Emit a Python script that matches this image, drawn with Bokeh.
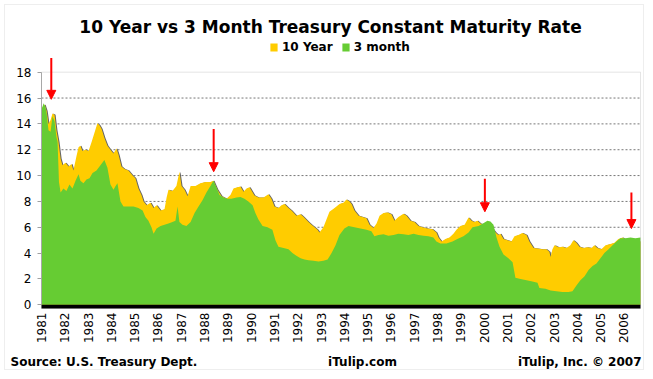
from bokeh.plotting import figure
from bokeh.models import (Range1d, FixedTicker, Label, BoxAnnotation, Arrow, NormalHead,
                          Legend, LegendItem)
from bokeh.embed import file_html
from bokeh.resources import INLINE
import math

# ---------------- data ----------------
ten_year_t = [1981.00, 1981.13, 1981.22, 1981.30, 1981.39, 1981.47, 1981.56, 1981.64, 1981.73, 1981.82,
              1981.90, 1982.03, 1982.16, 1982.29, 1982.37, 1982.50, 1982.59, 1982.67, 1982.76, 1982.89,
              1983.02, 1983.15, 1983.27, 1983.40, 1983.49, 1983.58, 1983.70, 1983.83, 1983.96, 1984.09,
              1984.22, 1984.31, 1984.43, 1984.56, 1984.73, 1984.91, 1985.03, 1985.16, 1985.29, 1985.38,
              1985.51, 1985.68, 1985.81, 1985.94, 1986.11, 1986.28, 1986.37, 1986.45, 1986.62, 1986.79,
              1986.92, 1987.01, 1987.14, 1987.27, 1987.40, 1987.61, 1987.82, 1988.04, 1988.25, 1988.38,
              1988.55, 1988.73, 1988.94, 1989.11, 1989.24, 1989.41, 1989.54, 1989.67, 1989.80, 1989.93,
              1990.14, 1990.31, 1990.53, 1990.74, 1990.87, 1991.00, 1991.17, 1991.30, 1991.43, 1991.60,
              1991.73, 1991.94, 1992.12, 1992.25, 1992.46, 1992.59, 1992.72, 1992.85, 1992.93, 1993.10,
              1993.23, 1993.36, 1993.58, 1993.79, 1993.96, 1994.09, 1994.22, 1994.31, 1994.43, 1994.61,
              1994.78, 1994.95, 1995.08, 1995.25, 1995.38, 1995.51, 1995.68, 1995.85, 1996.02, 1996.15,
              1996.32, 1996.54, 1996.67, 1996.84, 1997.01, 1997.18, 1997.35, 1997.57, 1997.78, 1997.95,
              1998.04, 1998.17, 1998.34, 1998.51, 1998.68, 1998.81, 1998.98, 1999.16, 1999.33, 1999.46,
              1999.58, 1999.71, 1999.84, 2000.01, 2000.19, 2000.36, 2000.49, 2000.61, 2000.70, 2000.83,
              2001.00, 2001.17, 2001.30, 2001.47, 2001.64, 2001.82, 2001.94, 2002.12, 2002.29, 2002.50,
              2002.67, 2002.80, 2002.85, 2002.93, 2003.02, 2003.19, 2003.36, 2003.53, 2003.70, 2003.83,
              2003.96, 2004.09, 2004.26, 2004.43, 2004.61, 2004.73, 2004.86, 2005.03, 2005.21, 2005.42,
              2005.59, 2005.76, 2005.94, 2006.11, 2006.28, 2006.49, 2006.71]
ten_year_v = [15.2, 15.5, 15.0, 14.0, 14.3, 14.8, 14.7, 13.5, 12.6, 11.3,
              10.8, 11.0, 10.7, 10.9, 10.4, 11.5, 12.2, 12.3, 11.9, 12.0,
              11.9, 12.6, 13.3, 14.05, 13.9, 13.6, 12.9, 12.3, 12.0, 11.7,
              12.1, 11.6, 10.7, 10.5, 10.4, 10.0, 9.8, 9.0, 8.5, 8.0,
              7.7, 7.9, 7.5, 7.7, 7.3, 7.4, 8.3, 8.9, 8.8, 9.2,
              10.3, 9.2, 8.9, 8.4, 9.2, 9.2, 9.4, 9.5, 9.5, 9.6,
              8.9, 8.4, 8.2, 8.5, 9.0, 9.1, 9.15, 8.75, 9.0, 9.1,
              8.45, 8.3, 8.3, 8.55, 8.2, 7.6, 7.5, 7.7, 7.8, 7.5,
              7.3, 6.9, 7.0, 6.8, 6.4, 6.2, 6.0, 5.8, 5.6, 6.0,
              6.6, 7.2, 7.5, 7.8, 7.9, 8.15, 8.0, 7.8, 7.3, 6.9,
              6.8, 6.7, 6.2, 5.95, 6.3, 6.9, 7.1, 7.15, 7.0, 6.5,
              6.8, 7.05, 6.9, 6.5, 6.4, 6.1, 6.0, 5.9, 5.85, 5.6,
              5.2, 4.9, 5.1, 5.2, 5.5, 5.8, 6.1, 6.2, 6.75, 6.5,
              6.4, 6.5, 6.3, 6.2, 6.1, 5.9, 5.6, 5.4, 5.5, 5.1,
              5.0, 4.9, 5.3, 5.4, 5.55, 5.4, 4.9, 4.4, 4.35, 4.3,
              4.3, 4.1, 3.7, 4.3, 4.6, 4.45, 4.5, 4.4, 4.6, 5.0,
              4.8, 4.5, 4.4, 4.45, 4.4, 4.6, 4.4, 4.3, 4.6, 4.7,
              4.8, 5.1, 5.2, 5.0, 5.0, 5.0, 4.9]

three_month_t = [1981.00, 1981.09, 1981.17, 1981.22, 1981.30, 1981.39, 1981.47, 1981.56, 1981.64, 1981.69,
                 1981.75, 1981.82, 1981.94, 1982.07, 1982.20, 1982.33, 1982.46, 1982.59, 1982.67, 1982.80,
                 1982.93, 1983.06, 1983.19, 1983.36, 1983.53, 1983.70, 1983.83, 1983.96, 1984.09, 1984.18,
                 1984.26, 1984.39, 1984.52, 1984.73, 1984.95, 1985.16, 1985.34, 1985.46, 1985.59, 1985.72,
                 1985.81, 1985.94, 1986.11, 1986.28, 1986.45, 1986.62, 1986.75, 1986.84, 1986.92, 1987.05,
                 1987.22, 1987.40, 1987.57, 1987.74, 1987.91, 1988.08, 1988.25, 1988.38, 1988.51, 1988.64,
                 1988.81, 1988.98, 1989.15, 1989.37, 1989.54, 1989.71, 1989.88, 1990.06, 1990.18, 1990.31,
                 1990.49, 1990.70, 1990.91, 1991.04, 1991.17, 1991.39, 1991.60, 1991.77, 1991.94, 1992.12,
                 1992.29, 1992.46, 1992.67, 1992.89, 1993.10, 1993.28, 1993.45, 1993.62, 1993.79, 1994.00,
                 1994.18, 1994.43, 1994.69, 1994.95, 1995.16, 1995.29, 1995.46, 1995.68, 1995.89, 1996.11,
                 1996.32, 1996.54, 1996.75, 1996.97, 1997.18, 1997.40, 1997.61, 1997.82, 1997.95, 1998.12,
                 1998.38, 1998.64, 1998.85, 1999.11, 1999.33, 1999.50, 1999.76, 2000.00, 2000.14, 2000.27,
                 2000.40, 2000.53, 2000.66, 2000.83, 2001.04, 2001.22, 2001.34, 2001.56, 2001.82, 2002.07,
                 2002.29, 2002.37, 2002.63, 2002.85, 2003.10, 2003.36, 2003.62, 2003.79, 2003.96, 2004.13,
                 2004.31, 2004.48, 2004.65, 2004.82, 2004.99, 2005.16, 2005.34, 2005.51, 2005.68, 2005.85,
                 2006.06, 2006.28, 2006.49, 2006.71]
three_month_v = [15.1, 15.6, 15.3, 14.8, 13.5, 13.4, 14.6, 14.2, 13.0, 12.6,
                 9.5, 8.7, 9.0, 8.8, 9.3, 9.0, 9.6, 10.1, 9.6, 9.4,
                 9.7, 9.8, 10.2, 10.4, 10.8, 11.2, 10.6, 9.3, 8.9, 9.2,
                 9.4, 8.0, 7.6, 7.6, 7.6, 7.5, 7.3, 6.8, 6.5, 6.0,
                 5.5, 5.9, 6.1, 6.2, 6.3, 6.4, 6.5, 7.6, 6.4, 6.2,
                 6.1, 6.4, 7.1, 7.6, 8.1, 8.7, 9.2, 9.6, 9.1, 8.5,
                 8.3, 8.2, 8.2, 8.3, 8.35, 8.2, 8.0, 7.7, 7.1, 6.6,
                 6.1, 6.0, 5.8, 5.0, 4.5, 4.4, 4.3, 4.0, 3.8, 3.6,
                 3.5, 3.45, 3.4, 3.35, 3.4, 3.5, 4.0, 4.6, 5.4, 5.9,
                 6.1, 6.0, 5.9, 5.8, 5.7, 5.3, 5.4, 5.45, 5.35, 5.4,
                 5.5, 5.45, 5.4, 5.5, 5.4, 5.35, 5.3, 5.2, 4.9, 4.75,
                 4.75, 4.9, 5.1, 5.3, 5.6, 6.0, 6.1, 6.35, 6.5, 6.45,
                 6.2, 5.2, 4.5, 3.9, 3.6, 3.3, 2.1, 2.0, 1.9, 1.8,
                 1.7, 1.3, 1.25, 1.1, 1.05, 1.0, 1.0, 1.05, 1.5, 1.9,
                 2.2, 2.7, 3.0, 3.2, 3.6, 4.0, 4.3, 4.6, 4.9, 5.15,
                 5.15, 5.2, 5.15, 5.2]

year_ticks = list(range(1981, 2007))
y_ticks = [0, 2, 4, 6, 8, 10, 12, 14, 16, 18]
grid_ticks = [2, 4, 6, 8, 10, 12, 14, 16]
x_first, x_last = 1981.0, 2006.71

arrow_t = [1981.42, 1988.39, 2000.03, 2006.32]
arrow_from = [19.1, 13.6, 9.75, 8.7]
arrow_to = [15.9, 10.3, 7.2, 5.9]

YELLOW = "#FFCC00"
GREEN = "#66CC33"
FONT = "DejaVu Sans"

# ---------------- page geometry (pixels) ----------------
W, H = 645, 371
PLOT_LEFT, PLOT_RIGHT = 41, 640       # x pixel edges of the plotting area
ZERO_Y, TOP_Y = 304.3, 71.7           # y pixels of value 0 and of value 18
BAND_Y = 308                          # bottom of the black floor band
px_per_year = (PLOT_RIGHT - PLOT_LEFT) / (x_last - x_first)
px_per_unit = (ZERO_Y - TOP_Y) / 18.0
x_lo = x_first - PLOT_LEFT / px_per_year
x_hi = x_last + (W - PLOT_RIGHT) / px_per_year
y_lo = (ZERO_Y - H) / px_per_unit
y_hi = ZERO_Y / px_per_unit
band_bottom = (ZERO_Y - BAND_Y) / px_per_unit

p = figure(width=W, height=H, output_backend="svg", toolbar_location=None,
           x_range=Range1d(x_lo, x_hi), y_range=Range1d(y_lo, y_hi),
           min_border_left=0, min_border_right=0, min_border_top=0, min_border_bottom=0,
           background_fill_color="white", border_fill_color="white")
p.title.visible = False
p.outline_line_color = None
p.grid.visible = False
p.extra_x_ranges = {"px": Range1d(0, W)}
p.extra_y_ranges = {"px": Range1d(H, 0)}

# dotted horizontal grid inside the plotting area
n = len(grid_ticks)
p.segment(x0=[x_first] * n, x1=[x_last] * n, y0=grid_ticks, y1=grid_ticks,
          line_color="#777777", line_dash="2 2", line_width=1)

# thin dark edge on the right-hand side of the 10-year area (3-D shadow of the original)
shadow_t = [min(t + 0.045, x_last) for t in ten_year_t]
p.varea(x=shadow_t, y1=0, y2=ten_year_v, fill_color="#666666")
r10 = p.varea(x=ten_year_t, y1=0, y2=ten_year_v, fill_color=YELLOW)
r3 = p.varea(x=three_month_t, y1=0, y2=three_month_v, fill_color=GREEN)

# plotting-area border and black floor band
p.add_layout(BoxAnnotation(left=x_first, right=x_last, top=18, bottom=band_bottom,
                           fill_alpha=0, line_color="#a8a8a8", line_width=1))
p.add_layout(BoxAnnotation(left=x_first, right=x_last, top=0, bottom=band_bottom,
                           fill_color="black", fill_alpha=1.0, line_color=None))

# outer chart border
p.add_layout(BoxAnnotation(left=4, right=643, top=4, bottom=369,
                           x_range_name="px", y_range_name="px",
                           fill_alpha=0, line_color="#8c8c8c", line_width=1, line_dash="1 1"))

# axes (fixed inside the canvas)
p.xaxis.fixed_location = band_bottom
p.xaxis.ticker = FixedTicker(ticks=year_ticks)
p.xaxis.major_label_orientation = math.pi / 2
p.xaxis.axis_line_color = None
p.xaxis.major_tick_out = 0
p.xaxis.major_tick_in = 0
p.xaxis.minor_tick_line_color = None
p.xaxis.major_label_standoff = 4
p.xaxis.major_label_text_font = FONT
p.xaxis.major_label_text_font_size = "12px"
p.xaxis.major_label_text_color = "black"

p.yaxis.fixed_location = x_first
p.yaxis.ticker = FixedTicker(ticks=y_ticks)
p.yaxis.axis_line_color = "#a8a8a8"
p.yaxis.bounds = (0, 18)
p.yaxis.major_tick_line_color = "#a0a0a0"
p.yaxis.major_tick_out = 4
p.yaxis.major_tick_in = 0
p.yaxis.minor_tick_line_color = None
p.yaxis.major_label_standoff = 6
p.yaxis.major_label_text_font = FONT
p.yaxis.major_label_text_font_size = "12px"
p.yaxis.major_label_text_color = "black"

for t, a, b in zip(arrow_t, arrow_from, arrow_to):
    p.add_layout(Arrow(end=NormalHead(size=9, fill_color="#ff0000", line_color="#ff0000"),
                       x_start=t, y_start=a, x_end=t, y_end=b,
                       line_color="#ff0000", line_width=2))

# legend (top centre)
legend = Legend(items=[LegendItem(label="10 Year", renderers=[r10]),
                       LegendItem(label="3 month", renderers=[r3])],
                orientation="horizontal", location=(269, H - 54),
                glyph_width=9, glyph_height=10, label_standoff=4, spacing=8,
                padding=0, margin=0, border_line_color=None, background_fill_alpha=0,
                label_text_font=FONT, label_text_font_style="bold",
                label_text_color="black",
                label_text_font_size="12px", label_height=12)
p.add_layout(legend, "center")


# texts (screen units: x from the left edge, y up from the bottom edge)
def txt(x, y_from_top, s, align, size):
    p.add_layout(Label(x=x, y=H - y_from_top, x_units="screen", y_units="screen", text=s,
                       text_align=align, text_baseline="middle",
                       text_font=FONT, text_font_size=size,
                       text_font_style="bold", text_color="black"))


txt(330, 26, "10 Year vs 3 Month Treasury Constant Maturity Rate", "center", "17px")
txt(10, 361, "Source: U.S. Treasury Dept.", "left", "12px")
txt(362, 361, "iTulip.com", "center", "12px")
txt(641, 361, "iTulip, Inc. \u00a9 2007", "right", "12px")

open("out.html", "w").write(file_html(p, INLINE))
